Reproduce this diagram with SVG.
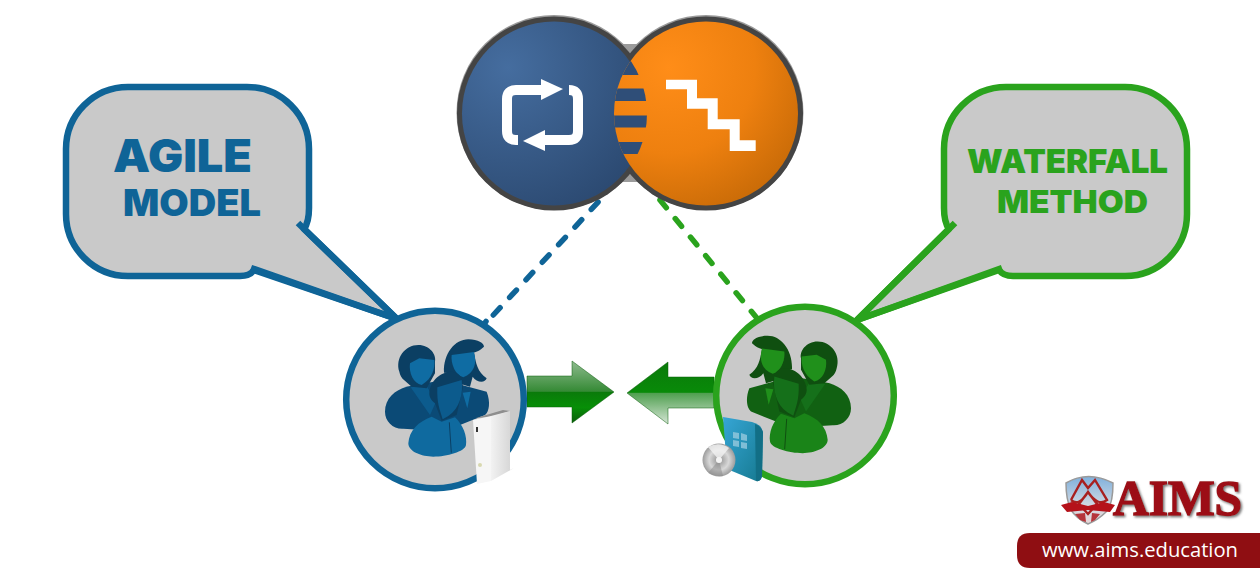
<svg xmlns="http://www.w3.org/2000/svg" width="1260" height="576" viewBox="0 0 1260 576">
<style>
.bub{fill:#c9c9c9;stroke-width:6.5;stroke-linejoin:round}
.tick{fill:none;stroke-width:6.5;stroke-linecap:butt}
.blue{stroke:#0f6497}.green{stroke:#2aa31d}
.ring{fill:#c9c9c9;stroke-width:6.5}
.big{font-family:Inter,"Liberation Sans",sans-serif;font-weight:900}
.tb{fill:#0f6497}.tg{fill:#2aa31d}
.dash{fill:none;stroke-width:5.5;stroke-dasharray:10 14;stroke-linecap:round}
.p-dark{fill:var(--dark)}.p-back{fill:var(--back)}.p-face{fill:var(--face)}.p-front{fill:var(--front)}.p-mid{fill:var(--mid)}
.p-line{fill:none;stroke:var(--dark);stroke-width:3}
.pb{--dark:#0b3f63;--back:#0b4a76;--face:#0f6ca3;--front:#0f6a9f;--mid:#0c5b8d}
.pg{--dark:#0f4f10;--back:#116112;--face:#20901b;--front:#1a8418;--mid:#15701a}
.ico{fill:none;stroke:#fff;stroke-width:10}
</style>
<defs>
<radialGradient id="gBlue" cx="0.25" cy="0.25" r="0.85"><stop offset="0" stop-color="#456d9f"/><stop offset="1" stop-color="#2c4a72"/></radialGradient>
<radialGradient id="gOrange" cx="0.3" cy="0.25" r="0.85"><stop offset="0" stop-color="#ff8d18"/><stop offset="0.55" stop-color="#ee800f"/><stop offset="1" stop-color="#c76a07"/></radialGradient>
<linearGradient id="gArrR" gradientUnits="userSpaceOnUse" x1="0" y1="361" x2="0" y2="423"><stop offset="0" stop-color="#8fbb8f"/><stop offset="0.49" stop-color="#358a35"/><stop offset="0.5" stop-color="#0a7a0a"/><stop offset="0.75" stop-color="#078f07"/><stop offset="1" stop-color="#0a5c0a"/></linearGradient>
<linearGradient id="gArrL" gradientUnits="userSpaceOnUse" x1="0" y1="362" x2="0" y2="424"><stop offset="0" stop-color="#0a7a0a"/><stop offset="0.49" stop-color="#098a09"/><stop offset="0.5" stop-color="#4f9f4f"/><stop offset="1" stop-color="#d5e5d5"/></linearGradient>
<linearGradient id="gBox" x1="0" y1="0" x2="1" y2="1"><stop offset="0" stop-color="#36a6d6"/><stop offset="1" stop-color="#15798f"/></linearGradient>
<linearGradient id="gXbox" x1="0" y1="0" x2="1" y2="0"><stop offset="0" stop-color="#f2f2f2"/><stop offset="1" stop-color="#d2d2d2"/></linearGradient>
<radialGradient id="gCd"><stop offset="0" stop-color="#eeeeee"/><stop offset="0.2" stop-color="#a8a8a8"/><stop offset="0.6" stop-color="#d8d8d8"/><stop offset="1" stop-color="#9c9c9c"/></radialGradient>
<linearGradient id="gShield" x1="0" y1="0" x2="0" y2="1"><stop offset="0" stop-color="#7fb0dc"/><stop offset="0.6" stop-color="#cfd8e2"/><stop offset="1" stop-color="#e8d5d5"/></linearGradient>
<clipPath id="cBlue"><circle cx="554" cy="113.5" r="93"/></clipPath>
<clipPath id="cOrange"><circle cx="706" cy="113.5" r="92"/></clipPath>
<filter id="fShadow" x="-10%" y="-10%" width="120%" height="130%"><feDropShadow dx="1.5" dy="1.5" stdDeviation="0.8" flood-color="#777"/></filter>
<g id="people">
<path class="p-back" d="M70,172L190,150L320,185C332,215 328,245 315,255L240,285L130,300L70,296C40,298 15,275 15,245C15,205 45,180 80,170Z"/>
<path class="p-mid" d="M92,172L150,255L168,215L138,165Z"/>
<path class="p-dark" d="M58,125C45,85 75,45 115,45C150,45 170,75 165,95L165,130L140,175L95,170L72,150C65,145 60,135 58,125Z"/>
<path class="p-face" d="M90,100L118,85L163,90C165,115 158,145 125,165C100,160 86,130 90,100Z"/>
<path class="p-face" d="M248,188L272,185L262,235Z"/>
<path class="p-dark" d="M192,128C190,70 225,28 265,28C295,28 312,40 312,50C300,62 288,65 282,68C288,100 292,125 320,145C315,160 290,158 278,140L270,170L235,160L215,130Z"/>
<path class="p-face" d="M215,75L282,66C292,100 282,130 250,142C225,135 212,100 215,75Z"/>
<path class="p-dark" d="M148,190C150,150 185,125 215,125C240,128 250,145 248,175L230,255L185,272L165,220C152,210 148,200 148,190Z"/>
<path class="p-mid" d="M172,172L245,150C250,190 240,235 205,258L188,268C180,240 170,220 172,172Z"/>
<path class="p-front" d="M85,340C88,300 115,275 155,260L185,275L225,262C250,285 262,320 258,345C255,365 200,380 160,380C125,380 85,365 85,340Z"/>
<path class="p-line" d="M208,277L214,368"/>
</g>
</defs>

<g id="connectors">
<path class="dash blue" d="M493.3,315L603,196.8"/>
<path class="dash blue" d="M484,324L486,321.5"/>
<path class="dash green" d="M660,200L758,319.5"/>
<polygon fill="url(#gArrR)" stroke="#0a5c0a" stroke-width="0.5" points="527,376 572,376 572,361 614,392 572,423 572,407 527,407"/>
<polygon fill="url(#gArrL)" stroke="#0a5c0a" stroke-width="0.5" points="714,377 668,377 668,362 627,393 668,424 668,408 714,408"/>
</g>

<g id="bubble-agile">
<path class="bub blue" d="M309,150V208Q309,222 304,229L397,319L254,270Q250,276 240,276H128A62,62 0 0 1 66,214V149A62,62 0 0 1 128,87H247A62,62 0 0 1 309,149Z"/>
<path class="tick blue" d="M298,223L397,319M251,268L397,319"/>
<text class="big tb" x="113" y="172" font-size="45" textLength="139" lengthAdjust="spacingAndGlyphs">AGILE</text>
<text class="big tb" x="123" y="216" font-size="37" textLength="138" lengthAdjust="spacingAndGlyphs">MODEL</text>
</g>

<g id="bubble-waterfall">
<path class="bub green" d="M944,150V208Q944,222 949,229L857,320L999,270Q1003,276 1013,276H1125A62,62 0 0 0 1187,214V149A62,62 0 0 0 1125,87H1006A62,62 0 0 0 944,149Z"/>
<path class="tick green" d="M955,223L857,320M1002,268L857,320"/>
<text class="big tg" x="967" y="173" font-size="33" textLength="201" lengthAdjust="spacingAndGlyphs">WATERFALL</text>
<text class="big tg" x="997" y="213" font-size="32" textLength="151" lengthAdjust="spacingAndGlyphs">METHOD</text>
</g>

<g id="hub">
<rect x="620" y="44" width="20" height="138" fill="#9c9c9c"/>
<circle cx="554" cy="112.5" r="97.5" fill="#9a9a9a"/>
<circle cx="706" cy="112.5" r="97.5" fill="#9a9a9a"/>
<circle cx="554" cy="113.5" r="97" fill="#444"/>
<circle cx="706" cy="113.5" r="97" fill="#444"/>
<circle cx="554" cy="113.5" r="92" fill="url(#gBlue)"/>
<circle cx="706" cy="113.5" r="92" fill="url(#gOrange)"/>
<g clip-path="url(#cOrange)"><g clip-path="url(#cBlue)" fill="#2f4e78">
<rect x="600" y="40" width="60" height="35"/>
<rect x="600" y="88.5" width="60" height="12.5"/>
<rect x="600" y="115.5" width="60" height="12"/>
<rect x="600" y="142" width="60" height="12"/>
</g></g>
<path class="ico" d="M518,140H516Q507,140 507,131V99Q507,90 516,90H545"/>
<polygon fill="#fff" points="541,79 563,89 541,100"/>
<path class="ico" d="M569,90Q578,90 578,99V131Q578,140 569,140H545"/>
<polygon fill="#fff" points="545,130 523,141 545,151"/>
<polygon fill="#fff" points="666,79.7 697,79.7 697,98.3 717.7,98.3 717.7,119.3 739.7,119.3 739.7,140.3 755.7,140.3 755.7,151 729.7,151 729.7,129.3 707.7,129.3 707.7,108.7 687,108.7 687,89.3 666,89.3"/>
</g>

<g id="team-agile">
<circle class="ring blue" cx="435" cy="399.5" r="88.8"/>
<use href="#people" class="pb" transform="translate(380 330) scale(0.3333)"/>
<g id="server">
<polygon fill="#8e8e8e" points="476,418 503,410 510,411 491,417"/>
<polygon fill="#f6f6f6" points="473,420 491,416 491,481 477,484"/>
<polygon fill="url(#gXbox)" points="491,416 510,411 510,470 514,468 491,481"/>
<rect x="476" y="427" width="2" height="5" fill="#333"/>
<circle cx="480" cy="465" r="2" fill="#d8d8b0"/>
</g>
</g>

<g id="team-waterfall">
<circle class="ring green" cx="805" cy="395.5" r="88.8"/>
<use href="#people" class="pg" transform="translate(856 326.5) scale(-0.3333 0.3333)"/>
<g id="software">
<path fill="url(#gBox)" d="M723,417L752,422Q761,424 763,432L762,476Q761,482 756,481L727,469Z"/>
<path fill="#126f86" d="M755,424Q761,426 763,432L762,476Q761,482 756,481Z"/>
<g fill="#8fc6dc" opacity="0.85">
<polygon points="733,432 739,433 739,439 733,438"/>
<polygon points="741,433 747,435 747,441 741,440"/>
<polygon points="733,440 739,441 739,447 733,446"/>
<polygon points="741,442 747,443 747,449 741,448"/>
</g>
<circle cx="719" cy="460" r="16.5" fill="url(#gCd)"/>
<path fill="#f2f2f2" opacity="0.8" d="M719,460L708,447Q719,441 729,448Z"/>
<path fill="#8a8a8a" opacity="0.5" d="M719,460L708,473Q715,477 723,476Z"/>
<circle cx="719" cy="460" r="3" fill="#f4f4f4"/>
</g>
</g>

<g id="logo">
<path fill="url(#gShield)" stroke="#9a9a9a" stroke-width="1.5" d="M1066,483Q1088,470 1113,483Q1113,505 1106,512Q1098,520 1088,524Q1076,518 1071,510Q1066,500 1066,483Z"/>
<path fill="none" stroke="#a8201f" stroke-width="2.4" d="M1071,500L1082,480L1088,488L1095,480L1107,500Q1098,507 1088,492Q1079,507 1071,500M1079,504L1088,492L1097,504L1088,514Z"/>
<polygon fill="#b5121a" points="1061,505 1072,502 1088,506 1104,502 1115,505 1110,512 1088,510 1067,512"/>
<path fill="#b5343a" d="M1075,514L1085,513L1086,522L1080,520Z M1092,513L1100,514L1095,520L1091,522Z"/>
<text x="1113" y="515" font-family="'Liberation Serif',serif" font-weight="700" font-size="51" fill="#9c1115" stroke="#9c1115" stroke-width="1.6" textLength="129" lengthAdjust="spacingAndGlyphs" filter="url(#fShadow)">AIMS</text>
<path fill="#8f0e12" d="M1260,533H1030Q1017,533 1017,546V555Q1017,568 1030,568H1260Z"/>
<text x="1042" y="557" font-family="'Open Sans','Noto Sans',sans-serif" font-weight="500" font-size="20" fill="#fff" textLength="196" lengthAdjust="spacingAndGlyphs">www.aims.education</text>
</g>
</svg>
